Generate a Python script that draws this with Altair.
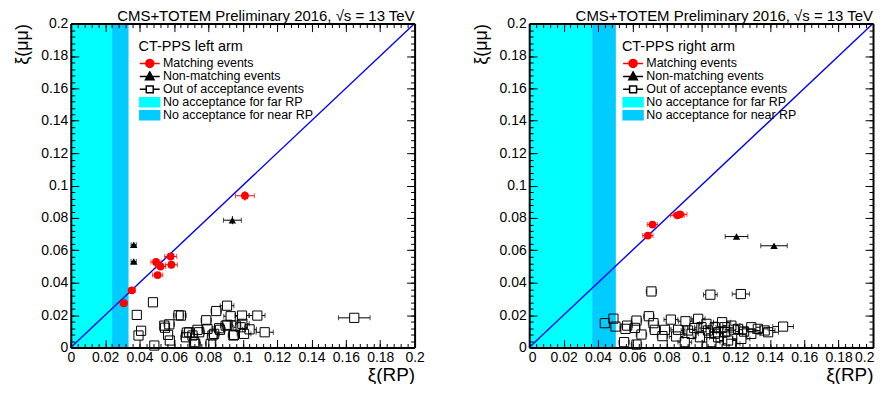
import altair as alt
import pandas as pd

FONT = "Liberation Sans"
W, H = 345, 325
TITLE = "CMS+TOTEM Preliminary 2016, \u221as = 13 TeV"

# ---------------- data ----------------
axis_range = [0.0, 0.2]
major_ticks = [0.0, 0.02, 0.04, 0.06, 0.08, 0.1, 0.12, 0.14, 0.16, 0.18, 0.2]
minor_ticks = [round(i * 0.004, 3) for i in range(51)]
diag_x = [0.0, 0.2]
diag_y = [0.0, 0.2]

entries = ["Matching events", "Non-matching events", "Out of acceptance events",
           "No acceptance for far RP", "No acceptance for near RP"]

# left arm
left_far = [0.0, 0.024]
left_near = [0.024, 0.0336]
lm_x = [0.1013, 0.0308, 0.0355, 0.0496, 0.0522, 0.0505, 0.0581, 0.0585]
lm_y = [0.0937, 0.0273, 0.0353, 0.0528, 0.0500, 0.0447, 0.0562, 0.0511]
lm_xe = [0.0055, 0.002, 0.002, 0.003, 0.003, 0.003, 0.0035, 0.0035]
lm_ye = [0.003, 0.001, 0.001, 0.0015, 0.0015, 0.0015, 0.0015, 0.0015]
ln_x = [0.0366, 0.0366, 0.0940]
ln_y = [0.0634, 0.0531, 0.0786]
ln_xe = [0.0015, 0.0015, 0.0052]
ln_ye = [0.0012, 0.0012, 0.0025]
lo_x = [0.0478, 0.0384, 0.0409, 0.0394, 0.0486, 0.0627, 0.0573, 0.0548, 0.0566, 0.0576,
        0.0675, 0.0670, 0.0724, 0.0737, 0.0788, 0.0846, 0.0909, 0.0930, 0.0996, 0.1085,
        0.1128, 0.1040, 0.0795, 0.0834, 0.0911, 0.0959, 0.0998, 0.0868, 0.0824, 0.0747,
        0.0689, 0.0718, 0.0814, 0.0946, 0.1008, 0.0641, 0.1649, 0.0863, 0.0901, 0.0708,
        0.0988, 0.0950, 0.0544]
lo_y = [0.0279, 0.0201, 0.0103, 0.0074, 0.0012, 0.0199, 0.0143, 0.0122, 0.0078, 0.0043,
        0.0092, 0.0063, 0.0022, 0.0109, 0.0168, 0.0225, 0.0258, 0.0193, 0.0197, 0.0197,
        0.0094, 0.0112, 0.0115, 0.0084, 0.0140, 0.0135, 0.0146, 0.0109, 0.0074, 0.0094,
        0.0094, 0.0033, 0.0023, 0.0074, 0.0084, 0.0197, 0.0183, 0.0119, 0.0135, 0.0074,
        0.0125, 0.0078, 0.0135]
lo_xe = [0.002, 0.001, 0.002, 0.001, 0.002, 0.003, 0.003, 0.002, 0.002, 0.002,
         0.003, 0.003, 0.003, 0.003, 0.003, 0.003, 0.004, 0.004, 0.004, 0.0045,
         0.005, 0.004, 0.003, 0.003, 0.003, 0.003, 0.004, 0.003, 0.003, 0.003,
         0.003, 0.003, 0.003, 0.003, 0.004, 0.003, 0.0092, 0.003, 0.003, 0.003,
         0.004, 0.003, 0.002]

# right arm
right_far = [0.0, 0.0366]
right_near = [0.0366, 0.0504]
rm_x = [0.0717, 0.0690, 0.0862, 0.0878]
rm_y = [0.0759, 0.0691, 0.0816, 0.0822]
rm_xe = [0.003, 0.003, 0.004, 0.004]
rm_ye = [0.002, 0.002, 0.002, 0.002]
rn_x = [0.1206, 0.1424]
rn_y = [0.0685, 0.0628]
rn_xe = [0.0066, 0.0077]
rn_ye = [0.001, 0.001]
ro_x = [0.0711, 0.1054, 0.1231, 0.0440, 0.0490, 0.0502, 0.0570, 0.0560, 0.0624, 0.0615,
        0.0653, 0.0696, 0.0723, 0.0731, 0.0775, 0.0789, 0.0824, 0.0866, 0.0909, 0.0924,
        0.0983, 0.0944, 0.0993, 0.1031, 0.1079, 0.1122, 0.1137, 0.1176, 0.1215, 0.1292,
        0.1370, 0.1477, 0.0552, 0.0624, 0.0905, 0.1099, 0.1157, 0.1234, 0.1060, 0.1176,
        0.1292, 0.1390, 0.1002, 0.1099, 0.1040, 0.1140, 0.1190, 0.1250, 0.1080, 0.1330,
        0.0855, 0.0960]
ro_y = [0.0346, 0.0326, 0.0330, 0.0150, 0.0178, 0.0129, 0.0135, 0.0115, 0.0166, 0.0121,
        0.0080, 0.0193, 0.0150, 0.0109, 0.0070, 0.0109, 0.0172, 0.0109, 0.0162, 0.0105,
        0.0177, 0.0084, 0.0063, 0.0146, 0.0125, 0.0156, 0.0125, 0.0135, 0.0115, 0.0125,
        0.0105, 0.0129, 0.0033, 0.0018, 0.0033, 0.0063, 0.0043, 0.0053, 0.0033, 0.0023,
        0.0084, 0.0094, 0.0125, 0.0094, 0.0105, 0.0095, 0.0110, 0.0098, 0.0085, 0.0115,
        0.0068, 0.0120]
ro_xe = [0.003, 0.004, 0.005, 0.002, 0.002, 0.002, 0.003, 0.003, 0.003, 0.003,
         0.003, 0.003, 0.003, 0.003, 0.003, 0.003, 0.004, 0.004, 0.004, 0.004,
         0.004, 0.004, 0.004, 0.004, 0.005, 0.005, 0.005, 0.005, 0.005, 0.005,
         0.006, 0.006, 0.003, 0.003, 0.004, 0.005, 0.005, 0.005, 0.005, 0.005,
         0.005, 0.006, 0.004, 0.005, 0.004, 0.005, 0.005, 0.005, 0.005, 0.006,
         0.004, 0.004]

# ---------------- styling helpers ----------------
SC = alt.Scale(domain=axis_range, nice=False, zero=False)
SQ_GAP = 0.0027  # half a square marker, in data units

legend_fill = ["#ff0000", "#000000", "#ffffff", "#00ffff", "#00ccff"]
legend_stroke = ["#ff0000", "#000000", "#000000", "#00ffff", "#00ccff"]
# unit = 5 px (symbol size 100); line runs 20 px, marker centred 10 px from its start
legend_shapes = [
    "M-1,0H3M0.2,0A0.8,0.8 0 1,0 1.8,0A0.8,0.8 0 1,0 0.2,0Z",
    "M-1,0H3M1,-0.9L1.85,0.65L0.15,0.65Z",
    "M-1,0H0.3M1.7,0H3M0.3,-0.7H1.7V0.7H0.3Z",
    "M-1,-0.9H3V0.9H-1Z",
    "M-1,-0.9H3V0.9H-1Z",
]


def xenc(field):
    return alt.X(field, type="quantitative", scale=SC, axis=None)


def yenc(field):
    return alt.Y(field, type="quantitative", scale=SC, axis=None)


def tick_axis(orient, values, size, domain=False):
    return alt.Axis(orient=orient, values=values, offset=-size if size else 0,
                    tickSize=size if size else 0, ticks=bool(size), labels=False,
                    domain=domain, domainColor="black", domainWidth=2,
                    grid=False, title=None, tickColor="black", tickWidth=1, zindex=2)


def panel(arm, far, near, mx, my, mxe, mye, nx, ny, nxe, nye, ox, oy, oxe, leg_x, flush):
    bands = pd.DataFrame({"a": [far[0], near[0]], "b": [far[1], near[1]],
                          "y1": [axis_range[0]] * 2, "y2": [axis_range[1]] * 2,
                          "kind": entries[3:]})
    band_layer = alt.Chart(bands).mark_rect().encode(
        x=xenc("a"), x2="b", y=yenc("y1"), y2="y2",
        color=alt.Color("kind:N", scale=alt.Scale(domain=entries[3:], range=["#00ffff", "#00ccff"]),
                        legend=None))

    diag = alt.Chart(pd.DataFrame({"x": diag_x, "y": diag_y})).mark_line(
        color="#0000ff", strokeWidth=1.4).encode(x=xenc("x"), y=yenc("y"))

    # out-of-acceptance squares
    odf = pd.DataFrame({"x": ox, "y": oy, "e": oxe})
    segs, caps = [], []
    for _, r in odf.iterrows():
        if r.e > SQ_GAP:
            segs.append({"y": r.y, "a": r.x - r.e, "b": r.x - SQ_GAP})
            segs.append({"y": r.y, "a": r.x + SQ_GAP, "b": r.x + r.e})
            caps.append({"x": r.x - r.e, "y": r.y})
            caps.append({"x": r.x + r.e, "y": r.y})
    sq_bars = alt.Chart(pd.DataFrame(segs)).mark_rule(color="black", strokeWidth=1).encode(
        x=xenc("a"), x2="b", y=yenc("y"))
    sq_caps = alt.Chart(pd.DataFrame(caps)).mark_tick(orient="vertical", size=5, thickness=1,
                                                      color="black").encode(x=xenc("x"), y=yenc("y"))
    squares = alt.Chart(odf).mark_point(shape="square", filled=False, size=85,
                                        color="black", strokeWidth=1, opacity=1).encode(
        x=xenc("x"), y=yenc("y"))

    def err_layers(x, y, xe, ye, color):
        d = pd.DataFrame({"x": x, "y": y, "xe": xe, "ye": ye})
        d["xl"] = d.x - d.xe
        d["xh"] = d.x + d.xe
        d["yl"] = d.y - d.ye
        d["yh"] = d.y + d.ye
        hb = alt.Chart(d).mark_rule(color=color, strokeWidth=1).encode(
            x=xenc("xl"), x2="xh", y=yenc("y"))
        vb = alt.Chart(d).mark_rule(color=color, strokeWidth=1).encode(
            x=xenc("x"), y=yenc("yl"), y2="yh")
        c = pd.concat([pd.DataFrame({"x": d.xl, "y": d.y}), pd.DataFrame({"x": d.xh, "y": d.y})])
        cp = alt.Chart(c).mark_tick(orient="vertical", size=5, thickness=1, color=color).encode(
            x=xenc("x"), y=yenc("y"))
        return d, [hb, vb, cp]

    nd, n_err = err_layers(nx, ny, nxe, nye, "black")
    tri = alt.Chart(nd).mark_point(shape="triangle-up", filled=True, size=55, color="black",
                                   opacity=1).encode(x=xenc("x"), y=yenc("y"))
    md, m_err = err_layers(mx, my, mxe, mye, "#ff0000")
    circ = alt.Chart(md).mark_point(shape="circle", filled=True, size=62, color="#ff0000",
                                    opacity=1).encode(x=xenc("x"), y=yenc("y"))

    leg = alt.Legend(title=f"CT-PPS {arm} arm", orient="none", legendX=leg_x, legendY=17,
                     padding=0, rowPadding=0, symbolSize=100, symbolStrokeWidth=1.5,
                     symbolOpacity=1, labelOffset=12, labelFont=FONT, labelFontSize=12.5,
                     labelColor="black", titleFont=FONT, titleFontSize=14.5,
                     titleFontWeight="normal", titleColor="black", titlePadding=3,
                     labelLimit=300, clipHeight=11)
    legend_df = pd.DataFrame({"entry": entries})
    legend_layer = alt.Chart(legend_df).transform_filter("false").mark_point(
        filled=True, size=100).encode(
        fill=alt.Fill("entry:N", scale=alt.Scale(domain=entries, range=legend_fill), legend=leg),
        stroke=alt.Stroke("entry:N", scale=alt.Scale(domain=entries, range=legend_stroke), legend=leg),
        shape=alt.Shape("entry:N", scale=alt.Scale(domain=entries, range=legend_shapes), legend=leg),
    )

    # axis carriers
    carrier = alt.Chart(odf).mark_point(opacity=0)
    x_lab = alt.Axis(orient="bottom", values=major_ticks, format=".2~f", ticks=False,
                     domain=True, domainColor="black", domainWidth=2, labelFont=FONT,
                     labelFontSize=14, labelColor="black", labelPadding=3, labelFlush=flush,
                     labelFlushOffset=1, labelOverlap=False, grid=False, title="\u03be(RP)",
                     titleFont=FONT, titleFontSize=19, titleFontWeight="normal",
                     titleColor="black", titleAnchor="end", titlePadding=1, zindex=2)
    y_lab = alt.Axis(orient="left", values=major_ticks, format=".2~f", ticks=False,
                     domain=True, domainColor="black", domainWidth=2, labelFont=FONT,
                     labelFontSize=14, labelColor="black", labelPadding=3, labelFlush=False,
                     labelOverlap=False, grid=False, title="\u03be(\u03bc\u03bc)", titleFont=FONT,
                     titleFontSize=18, titleFontWeight="normal", titleColor="black",
                     titleAnchor="end", titlePadding=9, zindex=2)
    pairs = [
        (x_lab, y_lab),
        (tick_axis("bottom", major_ticks, 8), tick_axis("left", major_ticks, 8)),
        (tick_axis("bottom", minor_ticks, 4), tick_axis("left", minor_ticks, 4)),
        (tick_axis("top", major_ticks, 8), tick_axis("right", major_ticks, 8)),
        (tick_axis("top", minor_ticks, 4), tick_axis("right", minor_ticks, 4)),
        (tick_axis("top", [0.0], 0, domain=True), tick_axis("right", [0.0], 0, domain=True)),
    ]
    carriers = [carrier.encode(x=alt.X("x:Q", scale=SC, axis=xa),
                               y=alt.Y("y:Q", scale=SC, axis=ya)) for xa, ya in pairs]

    layers = [band_layer, diag, sq_bars, sq_caps, squares] + n_err + [tri] + m_err + [circ, legend_layer] + carriers
    return alt.layer(*layers).resolve_axis(x="independent", y="independent").properties(
        width=W, height=H,
        title=alt.TitleParams(TITLE, anchor="end", frame="group", font=FONT, fontSize=15,
                              fontWeight="normal", color="black", offset=-7))


left = panel("left", left_far, left_near, lm_x, lm_y, lm_xe, lm_ye, ln_x, ln_y, ln_xe, ln_ye,
             lo_x, lo_y, lo_xe, 68, False)
right = panel("right", right_far, right_near, rm_x, rm_y, rm_xe, rm_ye, rn_x, rn_y, rn_xe, rn_ye,
              ro_x, ro_y, ro_xe, 93, True)

chart = alt.hconcat(left, right, spacing=115, bounds="flush",
                    padding={"left": 5, "top": -1, "right": 0, "bottom": -2}).resolve_scale(
    x="independent", y="independent", color="independent", fill="independent",
    stroke="independent", shape="independent").configure_view(stroke=None).configure(
    background="white")

chart.save("out.html", embed_options={"renderer": "svg", "actions": False})
